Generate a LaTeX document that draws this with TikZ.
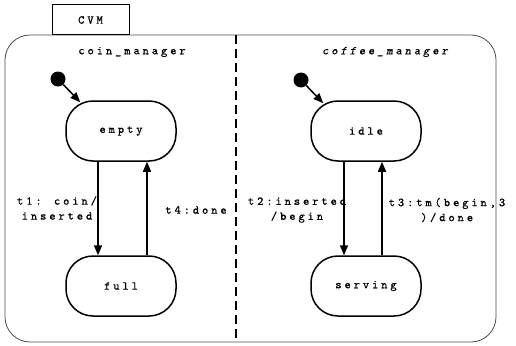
\documentclass[tikz,border=0pt]{standalone}
\usepackage{fontspec}
\usetikzlibrary{arrows.meta}
\newfontfamily\courfam{lmmono10-regular}[Extension=.otf, LetterSpace=24, FakeBold=0.7]
\newfontfamily\courslfam{lmmonoslant10-regular}[Extension=.otf, LetterSpace=24, FakeBold=0.7]
\newcommand\lblfont{\fontsize{12}{15}\selectfont\courfam}
\newcommand\lblfontit{\fontsize{12}{15}\selectfont\courslfam}
\tikzset{
  stbox/.style={draw, line width=1.5pt, rounded corners=27pt, minimum width=110pt, minimum height=60pt, inner sep=0pt, font=\lblfont},
  arr/.style={line width=1.5pt, -{Triangle[length=10pt,width=8pt]}},
  initdot/.style={circle, fill=black, inner sep=0pt, minimum size=15pt},
  lbl/.style={align=center, inner sep=0pt, font=\lblfont},
  frame/.style={draw=black!70, line width=0.8pt, rounded corners=25pt},
  divider/.style={line width=1.5pt, dash pattern=on 9pt off 5pt}
}
\begin{document}
\begin{tikzpicture}[x=1pt,y=-1pt]
\useasboundingbox (0,0) rectangle (516,345);
\draw[frame] (5,35) rectangle (496,342);
\node[draw, line width=1pt, fill=white, minimum width=77pt, minimum height=30pt, inner sep=0pt, font=\lblfont] (cvm) at (90.5,20) {CVM};
\coordinate (dtop) at (236,35);
\coordinate (dbot) at (236,342);
\draw[divider] (dtop) -- (dbot);
\node[lbl] (cm) at (132,52) {coin\_manager};
\node[lbl, font=\lblfontit] (fm) at (385,52) {coffee\_manager};
% left region
\node[stbox] (empty) at (121,131) {empty};
\node[stbox] (full) at (121,286) {full};
\node[initdot] (i1) at (58,79) {};
\draw[arr] (i1) -- ([xshift=15pt,yshift=-2pt]empty.north west);
\draw[arr] ([xshift=-23pt]empty.south) -- ([xshift=-23pt]full.north);
\draw[arr] ([xshift=26pt]full.north) -- ([xshift=26pt]empty.south);
\node[lbl] (t1) at (57,208) {t1: coin/\\inserted};
\node[lbl] (t4) at (196,210) {t4:done};
% right region
\node[stbox] (idle) at (366,131) {idle};
\node[stbox] (serving) at (366,286) {serving};
\node[initdot] (i2) at (301,80) {};
\draw[arr] (i2) -- ([xshift=13pt,yshift=-3pt]idle.north west);
\draw[arr] ([xshift=-22pt]idle.south) -- ([xshift=-22pt]serving.north);
\draw[arr] ([xshift=16pt]serving.north) -- ([xshift=16pt]idle.south);
\node[lbl] (t2) at (297,210) {t2:inserted\\/begin};
\node[lbl] (t3) at (447,210) {t3:tm(begin,3\\)/done};
\end{tikzpicture}
\end{document}
